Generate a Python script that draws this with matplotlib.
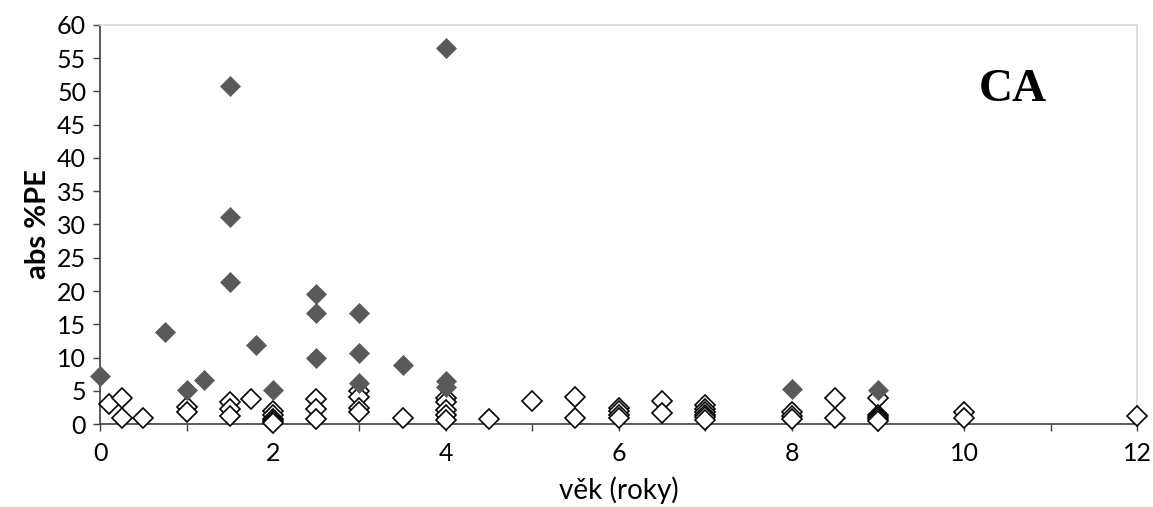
import matplotlib.pyplot as plt
import numpy as np

# filled markers: large errors
age_hi = [0, 0.75, 1, 1.2, 1.5, 1.5, 1.5, 1.8, 2, 2.5, 2.5, 2.5,
          3, 3, 3, 3.5, 4, 4, 4, 8, 9]
pe_hi = [7.2, 13.8, 5.1, 6.6, 50.8, 31.1, 21.3, 11.9, 5.1, 19.6, 16.7, 10.0,
         16.7, 10.7, 6.1, 8.9, 56.6, 6.4, 5.5, 5.2, 5.1]

# open markers: small errors
age_lo = [0.1, 0.25, 0.25, 0.5,
          1, 1,
          1.5, 1.5, 1.5, 1.75,
          2, 2, 2, 2, 2,
          2.5, 2.5, 2.5,
          3, 3, 3, 3,
          3.5,
          4, 4, 4, 4, 4,
          4.5, 5, 5.5, 5.5,
          6, 6, 6, 6,
          6.5, 6.5,
          7, 7, 7, 7, 7, 7,
          8, 8, 8,
          8.5, 8.5,
          9, 9, 9, 9, 9,
          10, 10,
          12]
pe_lo = [3.0, 3.9, 0.85, 0.85,
         2.5, 1.85,
         3.35, 2.2, 1.2, 3.7,
         2.0, 1.3, 0.8, 0.5, 0.2,
         3.7, 2.2, 0.7,
         4.9, 4.1, 2.35, 1.85,
         0.85,
         3.85, 3.35, 2.1, 1.35, 0.6,
         0.7, 3.5, 4.1, 0.85,
         2.35, 1.9, 1.4, 0.9,
         3.4, 1.6,
         2.8, 2.3, 1.8, 1.3, 1.0, 0.6,
         1.85, 1.2, 0.8,
         3.9, 0.85,
         3.85, 1.35, 1.0, 0.7, 0.5,
         1.85, 0.85,
         1.2]

plt.rcParams['font.family'] = ['Lato', 'DejaVu Sans']

fig = plt.figure(figsize=(11.53, 5.07), dpi=100)
ax = fig.add_axes([0.0868, 0.1637, 0.8996, 0.787])

ax.plot(age_lo, pe_lo, ls='none', marker='D', ms=10, mfc='white',
        mec='black', mew=1.2, clip_on=False, zorder=3)
ax.plot(age_hi, pe_hi, ls='none', marker='D', ms=10, mfc='#595959',
        mec='#595959', mew=0.5, clip_on=False, zorder=4)

ax.set_xlim(0, 12)
ax.set_ylim(0, 60)
ax.set_xticks(np.arange(0, 13, 1))
ax.set_xticklabels([str(v) if v % 2 == 0 else '' for v in range(13)])
ax.set_yticks(np.arange(0, 61, 5))
ax.tick_params(axis='both', labelsize=18, direction='out', length=5,
               width=1, color='#404040')
ax.tick_params(axis='x', pad=8)
ax.tick_params(axis='y', pad=5)

for side in ['left', 'bottom']:
    ax.spines[side].set_color('#404040')
    ax.spines[side].set_linewidth(1.2)
for side in ['top', 'right']:
    ax.spines[side].set_color('#d9d9d9')
    ax.spines[side].set_linewidth(1.2)

ax.set_xlabel('věk (roky)', fontsize=20, labelpad=8)
ax.set_ylabel('abs %PE', fontsize=21, fontweight='bold', labelpad=4)

ax.text(10.56, 50.3, 'CA', fontsize=34, fontweight='bold',
        family='Liberation Serif', ha='center', va='center')

fig.savefig('out.png', dpi=100)
